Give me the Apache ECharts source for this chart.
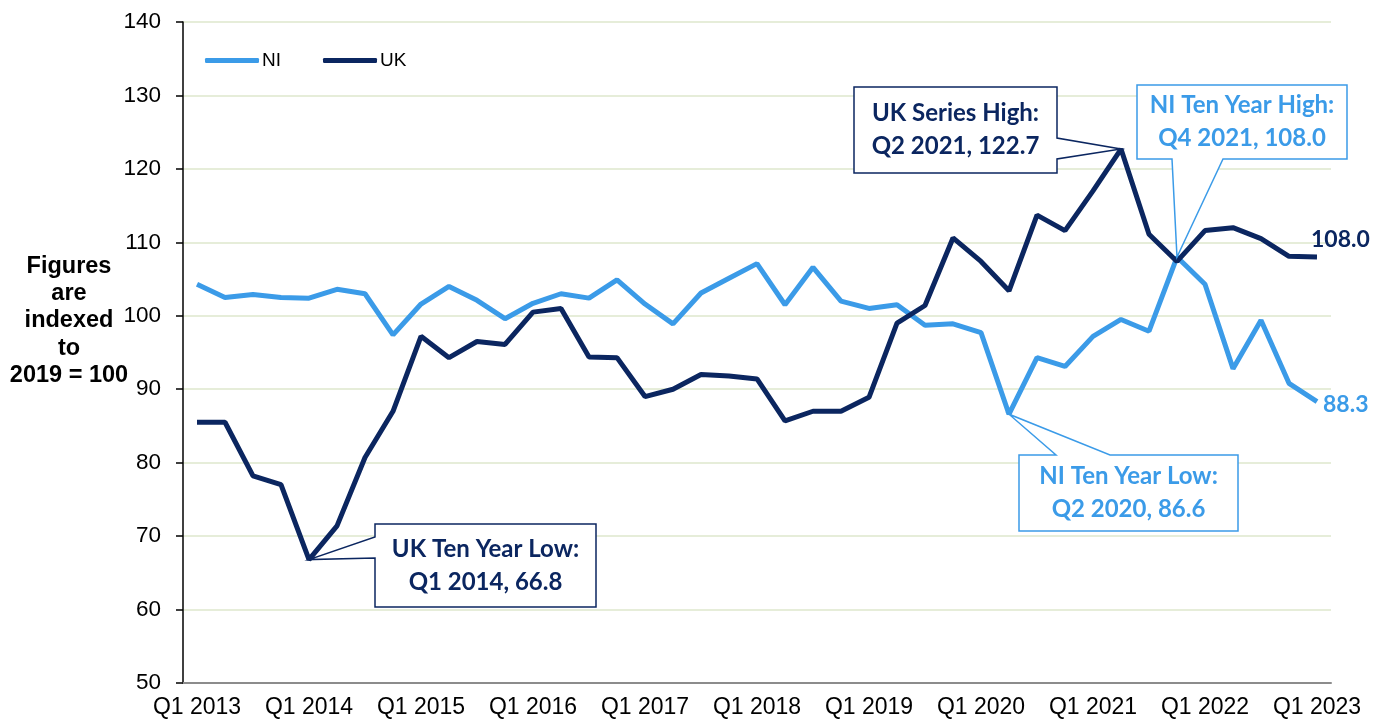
<!DOCTYPE html>
<html>
<head>
<meta charset="utf-8">
<script src="https://cdn.jsdelivr.net/npm/echarts@6/dist/echarts.min.js"></script>
<style>
  html, body { margin: 0; padding: 0; background: #fff; }
  #chart { width: 1383px; height: 722px; }
</style>
</head>
<body>
<div id="chart"></div>
<script>
// quarters Q1 2013 .. Q1 2023
const quarters = [];
for (let y = 2013; y <= 2023; y++) {
  for (let q = 1; q <= 4; q++) {
    if (y === 2023 && q > 1) break;
    quarters.push("Q" + q + " " + y);
  }
}
const niValues = [
  104.3, 102.5, 102.9, 102.5, 102.4, 103.6, 103.0, 97.4, 101.6, 104.0,
  102.1, 99.6, 101.7, 103.0, 102.4, 104.9, 101.6, 98.9, 103.1, 105.1,
  107.1, 101.5, 106.6, 102.0, 101.0, 101.5, 98.7, 98.9, 97.7, 86.6,
  94.3, 93.1, 97.2, 99.5, 97.9, 108.0, 104.3, 92.8, 99.4, 90.8, 88.3,
];
const ukValues = [
  85.5, 85.5, 78.2, 77.0, 66.8, 71.4, 80.7, 87.0, 97.2, 94.3,
  96.5, 96.1, 100.5, 101.0, 94.4, 94.3, 89.0, 90.0, 92.0, 91.8,
  91.4, 85.7, 87.0, 87.0, 88.9, 99.0, 101.4, 110.6, 107.4, 103.4,
  113.7, 111.6, 117.0, 122.7, 111.1, 107.4, 111.6, 112.0, 110.5, 108.1, 108.0,
];
const yTicks = [50, 60, 70, 80, 90, 100, 110, 120, 130, 140];

const NI_COLOR = "#3B9BE8";
const UK_COLOR = "#0B2660";
const TEXT_FONT = "Lato, 'Open Sans', sans-serif";

// callouts: series index, data index, text, box [x, y, w, h], wedge side + two points on that side
const callouts = [
  { s: 1, i: 33, color: UK_COLOR, lines: ["UK Series High:", "Q2 2021, 122.7"], box: [854, 87, 203, 86], side: "right", a: 138, b: 159 },
  { s: 0, i: 35, color: NI_COLOR, lines: ["NI Ten Year High:", "Q4 2021, 108.0"], box: [1137, 85, 210, 74], side: "bottom", a: 1172, b: 1223 },
  { s: 0, i: 29, color: NI_COLOR, lines: ["NI Ten Year Low:", "Q2 2020, 86.6"], box: [1019, 455, 219, 76], side: "top", a: 1056, b: 1110 },
  { s: 1, i: 4, color: UK_COLOR, lines: ["UK Ten Year Low:", "Q1 2014, 66.8"], box: [375, 524, 221, 83], side: "left", a: 537, b: 558 },
];

const chart = echarts.init(document.getElementById("chart"));

const option = {
  animation: false,
  backgroundColor: "#fff",
  grid: { left: 183, right: 52, top: 22, bottom: 39, outerBoundsMode: "none" },
  legend: {
    left: 200,
    top: 46,
    icon: "roundRect",
    itemWidth: 54,
    itemHeight: 5,
    itemGap: 42,
    textStyle: { fontFamily: "Liberation Sans, Arial", fontSize: 19, color: "#000", padding: [0, 0, 0, -2] },
    data: [
      { name: "NI", itemStyle: { color: NI_COLOR } },
      { name: "UK", itemStyle: { color: UK_COLOR } },
    ],
  },
  xAxis: {
    type: "category",
    data: quarters,
    boundaryGap: true,
    axisLine: { lineStyle: { color: "#8C8C8C", width: 2 } },
    axisTick: { interval: 0, length: 6, lineStyle: { color: "#8C8C8C", width: 1.5 } },
    axisLabel: {
      interval: 3,
      margin: 13,
      color: "#000",
      fontFamily: "Liberation Sans, Arial",
      fontSize: 23,
    },
    splitLine: { show: false },
  },
  yAxis: {
    type: "value",
    min: yTicks[0],
    max: yTicks[yTicks.length - 1],
    interval: 10,
    axisLine: { show: true, lineStyle: { color: "#000", width: 1.5 } },
    axisTick: { show: true, length: 7, lineStyle: { color: "#000", width: 1.5 } },
    axisLabel: {
      margin: 22,
      color: "#000",
      fontFamily: "Liberation Sans, Arial",
      fontSize: 22.5,
    },
    splitLine: { lineStyle: { color: "#E6EDD9", width: 2 } },
  },
  series: [
    {
      name: "NI",
      type: "line",
      data: niValues,
      showSymbol: false,
      symbol: "none",
      lineStyle: { color: NI_COLOR, width: 5 },
      itemStyle: { color: NI_COLOR },
      endLabel: {
        show: true,
        formatter: (p) => p.value.toFixed(1),
        offset: [-2, 3],
        color: NI_COLOR,
        fontFamily: TEXT_FONT,
        fontWeight: "bold",
        fontSize: 23,
      },
      z: 3,
    },
    {
      name: "UK",
      type: "line",
      data: ukValues,
      showSymbol: false,
      symbol: "none",
      lineStyle: { color: UK_COLOR, width: 5 },
      itemStyle: { color: UK_COLOR },
      endLabel: {
        show: true,
        formatter: (p) => p.value.toFixed(1),
        offset: [-14, -17],
        color: UK_COLOR,
        fontFamily: TEXT_FONT,
        fontWeight: "bold",
        fontSize: 23,
      },
      z: 4,
    },
  ],
};

chart.setOption(option);

function calloutShape(c) {
  const seriesData = c.s === 0 ? niValues : ukValues;
  const [px, py] = chart.convertToPixel({ seriesIndex: c.s }, [c.i, seriesData[c.i]]);
  const [x, y, w, h] = c.box;
  const x1 = x + w, y1 = y + h;
  let pts;
  if (c.side === "right") {
    pts = [[x, y], [x1, y], [x1, c.a], [px, py], [x1, c.b], [x1, y1], [x, y1]];
  } else if (c.side === "bottom") {
    pts = [[x, y], [x1, y], [x1, y1], [c.b, y1], [px, py], [c.a, y1], [x, y1]];
  } else if (c.side === "top") {
    pts = [[x, y], [c.a, y], [px, py], [c.b, y], [x1, y], [x1, y1], [x, y1]];
  } else {
    pts = [[x, y], [x1, y], [x1, y1], [x, y1], [x, c.b], [px, py], [x, c.a]];
  }
  return [
    {
      type: "polygon",
      z: 100,
      shape: { points: pts },
      style: { fill: "#fff", stroke: c.color, lineWidth: 1.5 },
    },
    {
      type: "text",
      z: 101,
      style: {
        text: c.lines.join("\n"),
        x: x + w / 2,
        y: y + h / 2,
        align: "center",
        verticalAlign: "middle",
        lineHeight: 33,
        fill: c.color,
        font: "bold 24px " + TEXT_FONT,
      },
    },
  ];
}

const graphics = [];
callouts.forEach((c) => graphics.push(...calloutShape(c)));

// y axis title
graphics.push({
  type: "text",
  z: 50,
  style: {
    text: "Figures\nare\nindexed\nto\n2019 = 100",
    x: 69,
    y: 321,
    align: "center",
    verticalAlign: "middle",
    lineHeight: 27.3,
    fill: "#000",
    font: "bold 23.5px 'Liberation Sans', Arial",
  },
});

chart.setOption({ graphic: graphics });
</script>
</body>
</html>
